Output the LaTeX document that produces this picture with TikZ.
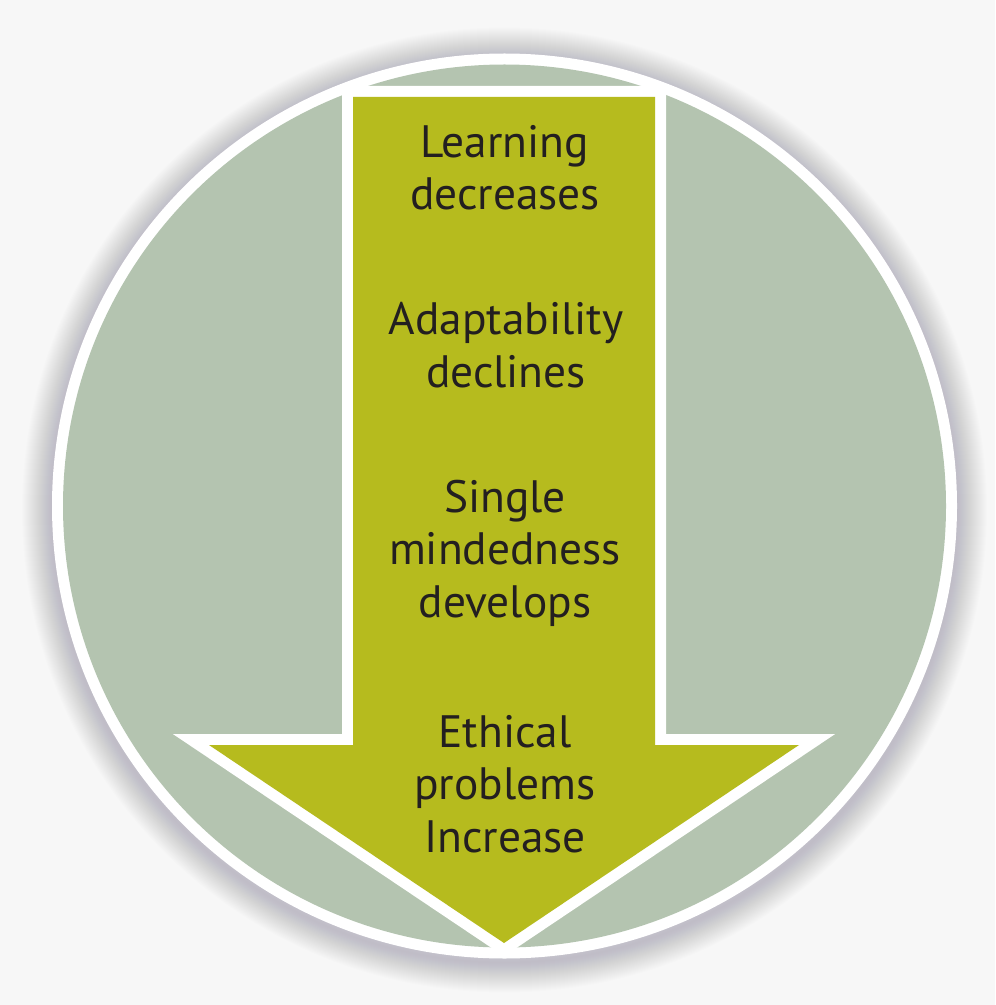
\documentclass[tikz,border=0pt]{standalone}
\usepackage{fontspec}
\setmainfont{PT Sans}
\usepackage{tikz}
\definecolor{pagegray}{RGB}{247,247,247}
\definecolor{circlegreen}{RGB}{180,196,176}
\definecolor{arrowolive}{RGB}{182,187,30}
\definecolor{textdark}{RGB}{35,31,32}
\definecolor{shadowgray}{RGB}{70,65,85}
\tikzset{
outerring/.style={circle, fill=white, inner sep=0pt, minimum size=452.5pt},
innerdisc/.style={circle, fill=circlegreen, inner sep=0pt, minimum size=441.5pt},
arrowrim/.style={draw=white, line width=11pt, line join=miter, miter limit=4},
arrowbody/.style={fill=arrowolive},
stepblock/.style={align=center, inner sep=0pt, text=textdark, font=\fontsize{22.7pt}{26.25pt}\selectfont, anchor=base},
}

\begin{document}
\begin{tikzpicture}[x=0.5pt,y=-0.5pt]
    \useasboundingbox[fill=pagegray] (0,0) rectangle (995,1005);
    % soft shadow round the disc
    \foreach \w in {2,4,...,60}
      \draw[shadowgray, opacity=0.008, line width=\w*0.5pt] (504.5,510) circle [radius=452.5];
    \node[outerring] at (504.5,506) (ring) {};
    \node[innerdisc] at (504.5,506) (disc) {};
    % the big arrow
    \draw[arrowrim] (353,97) -- (655,97) -- (655,745) -- (799,745) -- (504,943) -- (209,745) -- (353,745) -- cycle;
    \fill[arrowbody] (353,97) -- (655,97) -- (655,745) -- (799,745) -- (504,943) -- (209,745) -- (353,745) -- cycle;
    % base = last line
    \node[stepblock] at (505,210) (learning) {Learning\\decreases};
    \node[stepblock] at (506,387) (adapt) {Adaptability\\declines};
    \node[stepblock] at (505,617) (single) {Single\\mindedness\\develops};
    \node[stepblock] at (505,852) (ethical) {Ethical\\problems\\Increase};
\end{tikzpicture}
\end{document}
